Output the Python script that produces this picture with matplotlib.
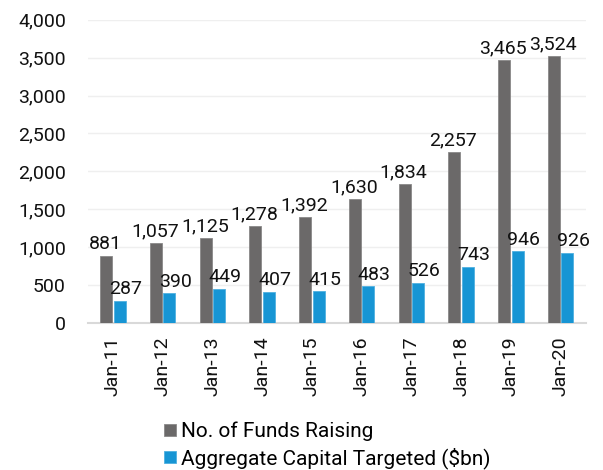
import numpy as np
import matplotlib.pyplot as plt
from matplotlib.ticker import FuncFormatter

plt.rcParams['font.family'] = ['Roboto', 'DejaVu Sans']

categories = ['Jan-11', 'Jan-12', 'Jan-13', 'Jan-14', 'Jan-15',
              'Jan-16', 'Jan-17', 'Jan-18', 'Jan-19', 'Jan-20']
funds_raising = [881, 1057, 1125, 1278, 1392, 1630, 1834, 2257, 3465, 3524]
capital_targeted = [287, 390, 449, 407, 415, 483, 526, 743, 946, 926]

gray = '#6b6969'
blue = '#1795d4'

fig = plt.figure(figsize=(6.03, 4.70), dpi=100)
ax = fig.add_axes([0.146, 0.313, 0.825, 0.645])

x = np.arange(len(categories))
w = 0.24
gap = 0.03
b1 = ax.bar(x - w / 2 - gap / 2, funds_raising, w, color=gray,
            edgecolor='#8a8888', linewidth=0.6, label='No. of Funds Raising', zorder=3)
b2 = ax.bar(x + w / 2 + gap / 2, capital_targeted, w, color=blue,
            edgecolor='#4fb0e0', linewidth=0.6, label='Aggregate Capital Targeted ($bn)', zorder=3)

for rect, v in zip(b1, funds_raising):
    ax.text(rect.get_x() + rect.get_width() / 2 - 0.02, v + 35, f'{v:,}',
            ha='center', va='bottom', fontsize=14, color='#111111')
for rect, v in zip(b2, capital_targeted):
    ax.text(rect.get_x() + rect.get_width() / 2 + 0.12, v + 35, f'{v:,}',
            ha='center', va='bottom', fontsize=14, color='#111111')

ax.set_ylim(0, 4000)
ax.set_xlim(-0.5, len(categories) - 0.5)
ax.set_yticks(np.arange(0, 4001, 500))
ax.yaxis.set_major_formatter(FuncFormatter(lambda v, p: f'{int(v):,}'))
ax.set_xticks(x)
ax.set_xticklabels(categories, rotation=90)
ax.tick_params(axis='both', length=0, labelsize=14, colors='#111111')
ax.tick_params(axis='y', pad=16)
ax.tick_params(axis='x', pad=10)

ax.grid(axis='y', color='#efefef', linewidth=1, zorder=0)
for s in ['top', 'right', 'left']:
    ax.spines[s].set_visible(False)
ax.spines['bottom'].set_color('#d9d9d9')
ax.spines['bottom'].set_linewidth(1.5)

fig.legend(handles=[b1, b2], loc='upper left', bbox_to_anchor=(0.255, 0.125),
           ncol=1, frameon=False, fontsize=15, handlelength=0.55, handleheight=0.55,
           handletextpad=0.25, labelspacing=0.3, alignment='left', borderpad=0)

fig.savefig('out.png', dpi=100)
